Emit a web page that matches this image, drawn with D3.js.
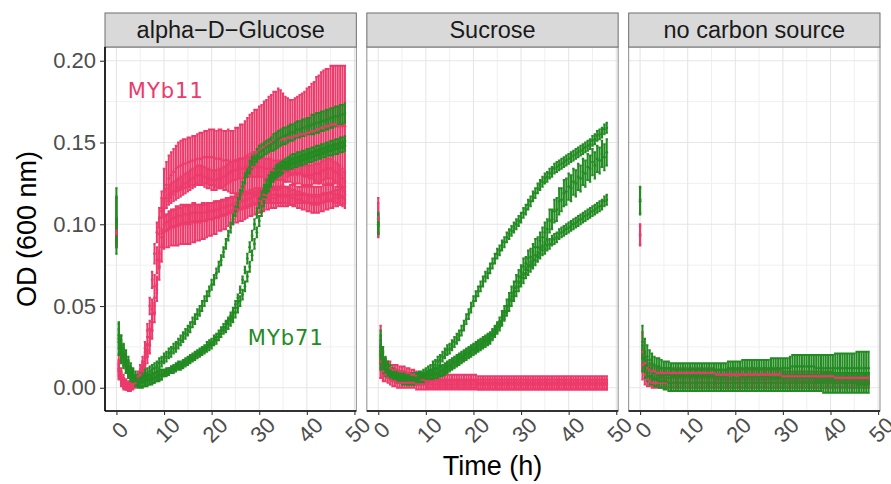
<!DOCTYPE html>
<html>
<head>
<meta charset="utf-8">
<script src="https://cdn.jsdelivr.net/npm/d3@7"></script>
<style>
  body { margin: 0; background: #fff; }
  svg { display: block; }
</style>
</head>
<body>
<svg id="chart" width="891" height="484"></svg>
<script>
// Sampling times (h), one reading every 30 min
const hours = [
  0,0.5,1,1.5,2,2.5,3,3.5,4,4.5,
  5,5.5,6,6.5,7,7.5,8,8.5,9,9.5,
  10,10.5,11,11.5,12,12.5,13,13.5,14,14.5,
  15,15.5,16,16.5,17,17.5,18,18.5,19,19.5,
  20,20.5,21,21.5,22,22.5,23,23.5,24,24.5,
  25,25.5,26,26.5,27,27.5,28,28.5,29,29.5,
  30,30.5,31,31.5,32,32.5,33,33.5,34,34.5,
  35,35.5,36,36.5,37,37.5,38,38.5,39,39.5,
  40,40.5,41,41.5,42,42.5,43,43.5,44,44.5,
  45,45.5,46,46.5,47,47.5,48
];

// All OD readings below are in milli-OD (OD600 x 1000): mean and SD per replicate run

// ---- alpha-D-Glucose, MYb11 ----
const glc11a = [
  95,14,7,4,2,1,1,2,3,5,
  8,12,18,26,36,48,62,78,94,108,
  120,124,128,130,132,134,135,136,137,137,
  138,138,139,139,140,140,140,141,141,141,
  141,141,140,140,140,139,139,139,138,138,
  139,139,140,140,141,142,143,143,144,144,
  145,146,147,148,149,150,151,151,152,152,
  152,152,153,153,153,154,154,155,155,155,
  156,156,157,157,158,158,159,159,160,160,
  161,161,161,160,160,160,160
];
const glc11aSd = [
  8,6,5,4,3,3,3,3,3,3,
  3,4,4,5,5,6,7,8,10,12,
  14,14,14,14,14,14,15,15,15,15,
  15,15,15,15,15,16,16,16,16,17,
  17,17,17,18,18,18,18,19,19,19,
  20,20,21,21,22,23,24,25,26,26,
  27,27,28,28,29,29,30,30,31,30,
  28,26,24,23,23,23,24,24,25,26,
  27,28,29,30,32,33,34,35,35,35,
  36,36,36,37,37,37,37
];
const glc11b = [
  94,12,6,3,2,1,1,2,4,7,
  11,16,24,35,50,66,82,95,104,110,
  115,116,118,119,120,121,122,123,124,125,
  126,127,128,129,130,130,130,129,128,128,
  127,127,127,128,128,129,130,131,132,133,
  133,134,134,134,135,135,135,135,135,135,
  135,135,134,134,134,134,133,133,133,133,
  133,132,132,132,131,131,131,131,130,130,
  130,130,130,131,131,131,132,133,134,134,
  134,133,132,131,130,128,126
];
const glc11bSd = [
  8,5,4,3,3,2,2,2,3,3,
  3,3,4,4,5,5,6,6,6,6,
  6,6,6,6,6,6,6,6,6,6,
  6,6,6,6,6,6,6,6,6,6,
  6,6,6,6,6,6,6,6,6,6,
  6,6,6,6,6,6,6,6,6,6,
  6,6,6,6,6,6,6,6,6,6,
  6,6,6,6,6,6,6,6,6,6,
  6,6,6,6,6,6,6,6,6,6,
  6,6,6,6,6,6,6
];
const glc11c = [
  96,10,5,2,1,0,1,2,3,5,
  8,12,17,23,31,40,50,63,78,92,
  100,101,102,103,104,104,105,105,106,106,
  106,106,107,107,107,107,107,107,108,108,
  108,108,109,109,110,110,111,111,112,112,
  113,113,114,114,115,115,116,116,117,117,
  117,117,118,118,118,118,118,118,118,118,
  118,118,117,117,116,116,115,115,114,114,
  113,113,112,112,112,112,113,113,114,114,
  115,115,116,116,117,117,118
];
const glc11cSd = [
  8,5,4,3,2,2,2,2,2,3,
  3,3,4,4,5,5,5,5,5,5,
  5,5,5,5,5,5,5,5,5,5,
  5,5,5,5,5,5,5,5,5,5,
  5,5,5,5,5,5,5,5,5,5,
  5,5,5,5,5,5,5,5,5,5,
  5,5,5,5,5,5,5,5,5,5,
  5,5,5,5,5,5,5,5,5,5,
  5,5,5,5,5,5,5,5,5,5,
  5,5,5,5,5,5,5
];
const glc11d = [
  95,11,6,3,1,1,1,2,3,4,
  7,10,14,19,26,35,46,60,74,86,
  95,96,97,98,98,99,99,100,100,100,
  100,100,101,101,101,101,102,102,102,103,
  103,104,104,105,105,106,106,107,108,108,
  109,109,110,110,111,111,112,112,113,113,
  114,114,115,115,115,116,116,116,117,117,
  117,117,117,118,118,118,118,118,118,118,
  118,118,118,118,118,118,118,119,119,119,
  119,119,118,118,117,116,115
];
const glc11dSd = [
  8,5,4,3,2,2,2,2,2,3,
  3,3,4,4,5,5,6,7,8,9,
  10,10,11,11,11,12,12,12,12,12,
  12,12,12,12,11,11,11,11,10,10,
  10,10,10,9,9,9,9,8,8,8,
  8,8,8,8,8,7,7,7,7,7,
  7,7,7,6,6,6,6,6,6,6,
  6,6,6,6,6,6,5,5,5,5,
  5,5,5,5,5,5,5,5,5,5,
  5,5,5,5,5,5,5
];

// ---- alpha-D-Glucose, MYb71 ----
const glc71a = [
  102,30,24,20,16,13,10,8,6,5,
  6,7,8,9,10,11,12,13,15,16,
  18,19,21,22,24,25,27,29,31,33,
  35,37,40,42,45,47,50,53,56,59,
  63,66,70,74,78,83,88,93,98,103,
  108,113,118,123,128,132,135,138,140,142,
  144,145,146,147,148,149,150,151,152,153,
  154,154,155,156,156,157,158,158,159,159,
  160,160,161,161,162,162,163,163,164,164,
  165,165,166,166,167,167,168
];
const glc71aSd = [
  20,9,8,7,7,6,5,4,4,3,
  3,3,3,3,3,3,3,3,3,3,
  3,3,3,3,3,3,3,3,3,3,
  3,3,3,3,3,3,3,3,3,3,
  3,3,3,3,3,3,3,3,3,3,
  3,3,3,3,3,3,4,4,4,4,
  4,4,4,4,4,4,5,5,5,5,
  5,5,5,5,5,5,5,5,5,5,
  5,5,6,6,6,6,6,6,6,6,
  6,6,6,6,6,6,6
];
const glc71b = [
  101,28,22,18,14,11,8,6,4,3,
  3,3,4,4,5,5,6,7,7,8,
  9,10,10,11,12,13,14,14,15,16,
  17,18,19,20,21,22,23,24,26,27,
  28,30,31,33,35,37,39,41,44,47,
  51,55,60,66,72,79,86,93,100,107,
  113,117,121,124,127,129,131,133,134,135,
  136,137,138,139,140,140,141,141,142,142,
  143,143,144,144,145,145,146,146,147,147,
  148,148,149,149,150,150,151
];
const glc71bSd = [
  15,8,7,6,5,5,4,4,3,3,
  3,3,3,3,3,3,3,3,3,3,
  2,2,2,2,2,2,2,2,2,2,
  2,2,2,2,2,2,2,2,2,2,
  2,2,2,2,2,2,2,2,2,2,
  2,2,2,2,2,3,3,3,3,3,
  3,3,3,3,3,3,3,3,3,3,
  3,3,3,3,3,3,3,3,3,3,
  3,3,3,3,3,3,3,3,3,3,
  3,3,3,3,3,3,3
];
const glc71c = [
  103,32,25,20,16,12,9,7,5,4,
  4,4,4,5,5,6,6,7,8,8,
  9,9,10,11,11,12,13,13,14,15,
  16,17,18,19,20,21,22,23,24,25,
  26,28,29,31,33,35,37,39,41,43,
  46,49,53,57,62,68,74,81,88,95,
  102,108,114,119,123,126,129,131,132,133,
  134,135,136,137,137,138,138,139,139,140,
  140,141,141,142,142,143,143,144,144,145,
  145,145,146,146,147,147,148
];
const glc71cSd = [
  14,8,7,6,5,5,4,4,3,3,
  3,3,3,3,3,3,3,3,3,3,
  2,2,2,2,2,2,2,2,2,2,
  2,2,2,2,2,2,2,2,2,2,
  2,2,2,2,2,2,3,3,3,3,
  3,3,3,3,3,3,3,3,3,3,
  3,3,3,3,3,3,3,3,3,3,
  3,3,3,3,3,3,3,3,3,3,
  3,3,3,3,3,3,3,3,3,3,
  3,3,3,3,3,3,3
];

// ---- Sucrose, MYb11 ----
const suc11a = [
  104,22,15,13,12,12,11,11,11,10,
  10,10,9,9,8,8,7,6,5,5,
  4,4,4,4,4,4,4,4,4,4,
  4,4,4,4,4,4,4,4,4,4,
  4,4,3,3,3,3,3,3,3,3,
  3,3,3,3,3,3,3,3,3,3,
  3,3,3,3,3,3,3,3,3,3,
  3,3,3,3,3,3,3,3,3,3,
  3,3,3,3,3,3,3,3,3,3,
  3,3,3,3,3,3,3
];
const suc11aSd = [
  12,16,8,5,4,4,3,3,3,3,
  3,3,3,3,3,3,3,3,3,3,
  4,4,4,4,4,4,4,4,4,4,
  4,4,4,4,4,4,4,4,4,4,
  4,4,4,4,4,4,4,4,4,4,
  4,4,4,4,4,4,4,4,4,4,
  4,4,4,4,4,4,4,4,4,4,
  4,4,4,4,4,4,4,4,4,4,
  4,4,4,4,4,4,4,4,4,4,
  4,4,4,4,4,4,4
];
const suc11b = [
  103,16,10,8,6,5,4,4,3,3,
  3,3,3,3,3,3,2,2,2,2,
  2,2,2,2,2,2,2,2,2,2,
  2,2,2,2,2,2,2,2,2,2,
  2,2,2,2,2,2,2,2,2,2,
  2,2,2,2,2,2,2,2,2,2,
  2,2,2,2,2,2,2,2,2,2,
  2,2,2,2,2,2,2,2,2,2,
  2,2,2,2,2,2,2,2,2,2,
  2,2,2,2,2,2,2
];
const suc11bSd = [
  10,10,6,4,3,3,3,3,3,3,
  3,3,3,3,3,3,3,3,3,3,
  3,3,3,3,3,3,3,3,3,3,
  3,3,3,3,3,3,3,3,3,3,
  3,3,3,3,3,3,3,3,3,3,
  3,3,3,3,3,3,3,3,3,3,
  3,3,3,3,3,3,3,3,3,3,
  3,3,3,3,3,3,3,3,3,3,
  3,3,3,3,3,3,3,3,3,3,
  3,3,3,3,3,3,3
];

// ---- Sucrose, MYb71 ----
const suc71a = [
  100,22,16,13,11,10,9,8,8,7,
  7,7,6,6,6,6,6,7,7,8,
  9,10,11,13,14,16,17,19,21,23,
  24,26,28,30,32,35,38,42,45,49,
  53,56,59,62,65,68,70,73,76,79,
  82,84,87,89,92,94,96,98,100,102,
  104,107,109,112,114,117,119,122,124,126,
  128,129,131,132,134,135,136,137,138,139,
  140,141,142,143,144,145,146,147,148,149,
  151,152,154,155,156,158,159
];
const suc71aSd = [
  6,10,6,5,4,4,3,3,3,3,
  3,3,3,3,3,3,3,3,3,3,
  3,3,3,3,3,3,3,3,3,3,
  3,3,3,3,3,3,3,3,3,3,
  3,3,3,3,3,3,3,3,3,3,
  3,3,3,3,3,3,3,3,3,3,
  3,3,3,3,3,3,3,3,3,3,
  3,3,3,3,3,3,3,3,3,3,
  3,3,3,3,3,3,3,3,3,3,
  3,3,3,3,3,3,3
];
const suc71b = [
  101,25,18,14,12,10,9,8,7,6,
  6,6,5,5,5,5,5,6,6,6,
  7,7,8,8,9,9,10,11,12,13,
  14,15,16,17,18,19,20,21,22,23,
  24,25,26,27,28,29,30,31,33,35,
  37,40,43,46,50,54,58,61,65,68,
  71,74,76,79,80,83,86,86,90,92,
  95,97,102,103,108,109,114,115,119,120,
  123,122,126,125,129,128,132,131,135,134,
  138,136,140,139,143,141,144
];
const suc71bSd = [
  6,10,7,5,4,4,3,3,3,3,
  3,3,3,3,3,3,3,3,3,3,
  3,3,3,3,3,3,3,3,3,3,
  3,3,3,3,3,3,3,3,3,3,
  3,3,3,3,3,3,3,3,3,3,
  3,3,4,4,4,4,4,4,4,4,
  4,5,4,5,5,5,5,6,5,6,
  6,6,7,6,7,7,8,7,8,8,
  8,8,8,8,8,8,8,8,8,8,
  8,8,8,8,8,8,8
];
const suc71c = [
  99,20,15,12,10,9,8,7,6,6,
  5,5,5,5,5,5,5,5,6,6,
  7,7,8,8,9,9,10,10,11,12,
  13,14,15,16,17,18,19,20,21,22,
  23,24,25,26,27,28,29,30,32,34,
  36,38,41,44,47,50,53,56,59,62,
  65,67,70,72,74,76,78,80,82,84,
  85,87,88,90,91,92,94,95,96,97,
  98,99,100,101,102,103,104,105,106,107,
  108,109,110,111,112,114,115
];
const suc71cSd = [
  5,9,6,5,4,3,3,3,3,3,
  3,3,3,3,3,3,3,3,3,3,
  3,3,3,3,3,3,3,3,3,3,
  3,3,3,3,3,3,3,3,3,3,
  3,3,3,3,3,3,3,3,3,3,
  3,3,3,3,3,3,3,3,3,3,
  3,3,3,3,3,3,3,3,3,3,
  3,3,3,3,3,3,3,3,3,3,
  3,3,3,3,3,3,3,3,3,3,
  3,3,3,3,3,3,3
];

// ---- no carbon source, MYb11 ----
const noc11a = [
  93,22,15,12,11,10,10,9,9,9,
  9,9,9,9,9,9,9,9,9,9,
  9,9,9,9,9,9,9,9,9,9,
  9,9,8,8,8,8,8,8,8,8,
  8,8,8,8,8,8,8,8,8,8,
  8,8,8,8,8,8,8,8,8,8,
  7,7,7,7,7,7,7,7,7,7,
  7,7,7,7,7,7,7,7,7,7,
  7,7,6,6,6,6,6,6,6,6,
  6,6,6,6,6,6,6
];
const noc11aSd = [
  6,12,7,5,4,4,3,3,3,3,
  3,3,3,3,3,3,3,3,3,3,
  3,3,3,3,3,3,3,3,3,3,
  3,3,3,3,3,3,3,3,3,3,
  3,3,3,3,3,3,3,3,3,3,
  3,3,3,3,3,3,3,3,3,3,
  3,3,3,3,3,3,3,3,3,3,
  3,3,3,3,3,3,3,3,3,3,
  3,3,3,3,3,3,3,3,3,3,
  3,3,3,3,3,3,3
];
const noc11b = [
  94,14,8,5,4,3,3,3,3,3,
  3,3,3,3,3,3,3,3,3,3,
  3,3,3,3,3,3,3,3,3,3,
  3,3,3,3,3,3,3,3,3,3,
  3,3,3,3,3,3,3,3,3,3,
  3,3,3,3,3,3,3,3,3,3,
  3,3,3,3,3,3,3,3,3,3,
  3,3,3,3,3,3,3,3,3,3,
  3,3,3,3,3,3,3,3,3,3,
  3,3,3,3,3,3,3
];
const noc11bSd = [
  6,9,6,4,3,3,3,3,3,3,
  3,3,3,3,3,3,3,3,3,3,
  3,3,3,3,3,3,3,3,3,3,
  3,3,3,3,3,3,3,3,3,3,
  3,3,3,3,3,3,3,3,3,3,
  3,3,3,3,3,3,3,3,3,3,
  3,3,3,3,3,3,3,3,3,3,
  3,3,3,3,3,3,3,3,3,3,
  3,3,3,3,3,3,3,3,3,3,
  3,3,3,3,3,3,3
];

// ---- no carbon source, MYb71 ----
const noc71a = [
  115,28,22,19,17,15,14,13,13,12,
  12,12,12,11,11,11,11,11,11,11,
  11,11,11,11,11,11,11,11,11,11,
  11,11,11,11,11,11,11,12,12,12,
  12,12,12,12,12,12,12,12,12,12,
  12,12,12,12,12,12,12,12,12,12,
  12,12,12,12,13,13,13,13,13,13,
  13,13,13,13,12,12,12,12,12,12,
  12,12,12,12,12,12,12,12,12,12,
  12,12,12,12,12,12,12
];
const noc71aSd = [
  8,10,8,7,6,6,5,5,5,5,
  4,4,4,4,4,4,4,4,4,4,
  4,4,4,4,4,4,4,4,4,4,
  4,4,4,4,4,4,4,4,4,4,
  4,4,4,5,5,5,5,5,5,5,
  5,5,5,5,5,6,6,6,6,6,
  6,6,6,7,7,7,7,7,7,7,
  7,7,7,7,8,8,8,8,8,8,
  8,8,9,9,9,9,9,9,9,9,
  9,10,10,10,10,10,10
];
const noc71b = [
  114,18,12,9,7,6,5,5,4,4,
  4,4,3,3,3,3,3,3,3,3,
  3,3,3,3,3,3,3,3,3,3,
  3,3,3,3,3,3,3,3,3,3,
  3,3,3,3,3,3,3,3,3,3,
  3,3,3,3,3,3,3,3,3,3,
  3,3,3,3,3,3,3,3,3,3,
  3,3,3,3,3,3,3,3,3,3,
  3,3,3,3,3,3,3,3,3,3,
  3,3,3,3,3,3,3
];
const noc71bSd = [
  8,8,6,5,5,4,4,4,4,4,
  5,5,5,5,5,5,5,5,5,5,
  5,5,5,5,5,5,5,5,5,5,
  5,5,5,5,5,5,5,5,5,5,
  5,5,5,5,5,5,5,5,5,5,
  5,5,5,5,5,5,5,5,5,5,
  5,5,5,5,5,5,5,5,5,5,
  5,5,5,5,5,5,5,6,6,6,
  6,6,6,6,6,6,6,6,6,6,
  6,6,6,6,6,6,6
];

// Facets, axes and labels
const panelTitles = ["alpha\u2212D\u2212Glucose", "Sucrose", "no carbon source"];
const strains = ["MYb11", "MYb71"];
const strainColors = ["#EC3A6B", "#228B22"];
const xTicks = [0, 10, 20, 30, 40, 50];
const xMinor = [5, 15, 25, 35, 45];
const yTicks = [0, 0.05, 0.10, 0.15, 0.20];
const yMinor = [0.025, 0.075, 0.125, 0.175];
const xTitle = "Time (h)";
const yTitle = "OD (600 nm)";

// Replicate runs per facet, in drawing order
const facetRuns = [
  [["MYb11", glc11a, glc11aSd], ["MYb11", glc11b, glc11bSd], ["MYb11", glc11c, glc11cSd], ["MYb11", glc11d, glc11dSd],
   ["MYb71", glc71a, glc71aSd], ["MYb71", glc71b, glc71bSd], ["MYb71", glc71c, glc71cSd]],
  [["MYb11", suc11a, suc11aSd], ["MYb11", suc11b, suc11bSd],
   ["MYb71", suc71a, suc71aSd], ["MYb71", suc71b, suc71bSd], ["MYb71", suc71c, suc71cSd]],
  [["MYb11", noc11a, noc11aSd], ["MYb11", noc11b, noc11bSd],
   ["MYb71", noc71a, noc71aSd], ["MYb71", noc71b, noc71bSd]]
];

// Strain labels placed in data coordinates of the first facet: [text, hour, OD]
const strainLabels = [["MYb11", 2.4, 0.177], ["MYb71", 27.6, 0.026]];

// ---------- drawing ----------
const svg = d3.select("#chart");
const FONT = "'Liberation Sans', Arial, sans-serif";
const color = d3.scaleOrdinal().domain(strains).range(strainColors);

const plotLeft = 105, plotRight = 880, gap = 10.5;
const panelW = (plotRight - plotLeft - 2 * gap) / 3;
const stripTop = 13, plotTop = 47, plotBottom = 411;

const y = d3.scaleLinear().domain([-0.0142, 0.2084]).range([plotBottom, plotTop]);

facetRuns.forEach((runs, p) => {
  const x0 = plotLeft + p * (panelW + gap), x1 = x0 + panelW;
  const x = d3.scaleLinear().domain([-2.4, 50.4]).range([x0, x1]);
  const g = svg.append("g");

  g.append("rect").attr("x", x0).attr("y", plotTop).attr("width", panelW)
    .attr("height", plotBottom - plotTop).attr("fill", "#fff");

  // grid
  g.selectAll(".gxm").data(xMinor).join("line")
    .attr("x1", d => x(d)).attr("x2", d => x(d)).attr("y1", plotTop).attr("y2", plotBottom)
    .attr("stroke", "#F0F0F0").attr("stroke-width", 1);
  g.selectAll(".gym").data(yMinor).join("line")
    .attr("y1", d => y(d)).attr("y2", d => y(d)).attr("x1", x0).attr("x2", x1)
    .attr("stroke", "#F0F0F0").attr("stroke-width", 1);
  g.selectAll(".gx").data(xTicks).join("line")
    .attr("x1", d => x(d)).attr("x2", d => x(d)).attr("y1", plotTop).attr("y2", plotBottom)
    .attr("stroke", "#E6E6E6").attr("stroke-width", 1.1);
  g.selectAll(".gy").data(yTicks).join("line")
    .attr("y1", d => y(d)).attr("y2", d => y(d)).attr("x1", x0).attr("x2", x1)
    .attr("stroke", "#E6E6E6").attr("stroke-width", 1.1);

  const runsData = runs.map(([strain, mean, sd]) => {
    if (mean.length !== hours.length || sd.length !== hours.length)
      throw new Error("length mismatch in facet " + p + ": " + mean.length + "/" + sd.length);
    return { strain, pts: hours.map((h, i) => ({ h, m: mean[i] / 1000, s: sd[i] / 1000 })) };
  });

  // error bars (all runs), then points (all runs)
  const cap = 1.2;
  runsData.forEach(r => {
    const path = r.pts.map(d => {
      const xx = x(d.h), yt = y(d.m + d.s), yb = y(d.m - d.s);
      return `M${xx - cap},${yt}H${xx + cap}M${xx},${yt}V${yb}M${xx - cap},${yb}H${xx + cap}`;
    }).join("");
    g.append("path").attr("d", path).attr("fill", "none")
      .attr("stroke", color(r.strain)).attr("stroke-width", 2);
  });
  runsData.forEach(r => {
    g.append("g").selectAll("circle").data(r.pts).join("circle")
      .attr("cx", d => x(d.h)).attr("cy", d => y(d.m)).attr("r", 1.4)
      .attr("fill", color(r.strain));
  });

  // panel border and axis line
  g.append("rect").attr("x", x0).attr("y", plotTop).attr("width", panelW)
    .attr("height", plotBottom - plotTop).attr("fill", "none")
    .attr("stroke", "#8C8C8C").attr("stroke-width", 1);
  g.append("line").attr("x1", x0).attr("x2", x1).attr("y1", plotBottom).attr("y2", plotBottom)
    .attr("stroke", "#000").attr("stroke-width", 1.6);

  // strip
  g.append("rect").attr("x", x0).attr("y", stripTop).attr("width", panelW)
    .attr("height", plotTop - stripTop).attr("fill", "#D9D9D9")
    .attr("stroke", "#6E6E6E").attr("stroke-width", 1);
  g.append("text").attr("x", (x0 + x1) / 2).attr("y", (stripTop + plotTop) / 2)
    .attr("text-anchor", "middle").attr("dominant-baseline", "central")
    .attr("font-family", FONT).attr("font-size", 23.5).attr("fill", "#1A1A1A")
    .text(panelTitles[p]);

  // x axis
  const xa = g.append("g").attr("transform", `translate(0,${plotBottom})`)
    .call(d3.axisBottom(x).tickValues(xTicks).tickSize(4).tickFormat(d3.format("d")));
  xa.select(".domain").remove();
  xa.selectAll(".tick line").attr("stroke", "#333").attr("stroke-width", 1.1);
  xa.selectAll(".tick text")
    .attr("font-family", FONT).attr("font-size", 22).attr("fill", "#4D4D4D")
    .attr("text-anchor", "middle").attr("dominant-baseline", "central")
    .attr("x", 3).attr("y", 19).attr("dy", null)
    .attr("transform", "rotate(-45, 3, 19)");

  if (p === 0) {
    g.append("line").attr("x1", x0).attr("x2", x0).attr("y1", plotTop).attr("y2", plotBottom)
      .attr("stroke", "#000").attr("stroke-width", 1.6);
    const ya = g.append("g").attr("transform", `translate(${x0},0)`)
      .call(d3.axisLeft(y).tickValues(yTicks).tickSize(5).tickPadding(4).tickFormat(d3.format(".2f")));
    ya.select(".domain").remove();
    ya.selectAll(".tick line").attr("stroke", "#333").attr("stroke-width", 1.1);
    ya.selectAll(".tick text").attr("font-family", FONT).attr("font-size", 22).attr("fill", "#4D4D4D");

    g.selectAll(".strain").data(strainLabels).join("text")
      .attr("x", d => x(d[1])).attr("y", d => y(d[2]))
      .attr("font-family", "'DejaVu Sans', Verdana, sans-serif").attr("font-size", 21)
      .attr("letter-spacing", 1)
      .attr("fill", d => color(d[0])).text(d => d[0]);
  }
});

// axis titles
svg.append("text").attr("x", (plotLeft + plotRight) / 2).attr("y", 475)
  .attr("text-anchor", "middle").attr("font-family", FONT).attr("font-size", 27).attr("fill", "#000")
  .text(xTitle);
svg.append("text").attr("transform", `translate(36,${(plotTop + plotBottom) / 2}) rotate(-90)`)
  .attr("text-anchor", "middle").attr("font-family", FONT).attr("font-size", 27).attr("fill", "#000")
  .text(yTitle);
</script>
</body>
</html>
